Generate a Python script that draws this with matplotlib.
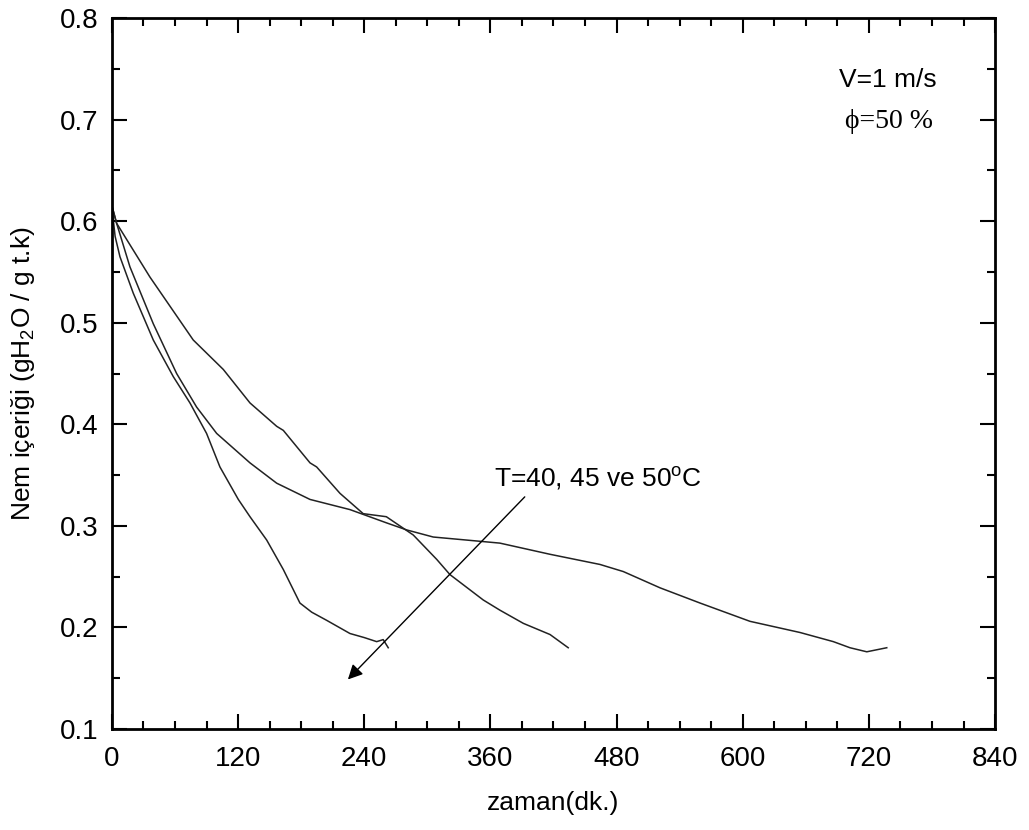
import numpy as np
import matplotlib
matplotlib.use("Agg")
import matplotlib.pyplot as plt
from matplotlib.ticker import MultipleLocator

plt.rcParams['font.family'] = ['Liberation Sans', 'DejaVu Sans']
plt.rcParams['mathtext.fontset'] = 'custom'
plt.rcParams['mathtext.rm'] = 'Liberation Sans'

# T = 50 C (fastest drying)
t50 = [0, 1.3, 3, 7.6, 20.3, 39.3, 58.3, 74.2, 90, 102.7, 120.2, 131.3, 147.2, 163,
       178.8, 190, 204.2, 226.4, 240, 251.8, 258, 262.8]
m50 = [0.615, 0.601, 0.585, 0.565, 0.529, 0.483, 0.447, 0.421, 0.391, 0.358, 0.326, 0.309,
       0.286, 0.257, 0.224, 0.215, 0.207, 0.194, 0.190, 0.186, 0.188, 0.180]

# T = 45 C
t45 = [0, 4.4, 36.1, 77.3, 105.9, 131.3, 156.7, 163, 188.4, 194.7, 216.9, 239, 261,
       286.6, 308.9, 321.5, 353.2, 369, 391.3, 416.7, 434]
m45 = [0.615, 0.598, 0.545, 0.483, 0.454, 0.421, 0.398, 0.394, 0.362, 0.358, 0.332, 0.312,
       0.309, 0.291, 0.267, 0.252, 0.227, 0.217, 0.204, 0.193, 0.180]

# T = 40 C (slowest)
t40 = [0, 4.4, 17.1, 39.3, 61.5, 80.5, 99.6, 131.3, 156.7, 188.4, 226.4, 261, 280.3,
       305.6, 337.4, 369, 416.7, 464.2, 486.4, 521.3, 559.4, 606.9, 654.5, 686.2, 702,
       718, 737]
m40 = [0.615, 0.598, 0.555, 0.499, 0.450, 0.417, 0.391, 0.362, 0.342, 0.326, 0.316, 0.303,
       0.296, 0.289, 0.286, 0.283, 0.272, 0.262, 0.255, 0.239, 0.224, 0.206, 0.195, 0.186,
       0.180, 0.176, 0.180]

fig = plt.figure(figsize=(10.29, 8.30), dpi=100)
ax = fig.add_axes([0.1088, 0.1217, 0.967 - 0.1088, 0.9783 - 0.1217])

for t, m in [(t50, m50), (t45, m45), (t40, m40)]:
    ax.plot(t, m, color='#222222', linewidth=1.1)

ax.set_xlim(0, 840)
ax.set_ylim(0.1, 0.8)
ax.xaxis.set_major_locator(MultipleLocator(120))
ax.xaxis.set_minor_locator(MultipleLocator(30))
ax.yaxis.set_major_locator(MultipleLocator(0.1))
ax.yaxis.set_minor_locator(MultipleLocator(0.05))
ax.tick_params(which='both', direction='in', top=True, right=True, width=1.5, labelsize=20)
ax.tick_params(which='major', length=11)
ax.tick_params(which='minor', length=6)
ax.tick_params(axis='x', which='major', pad=12)
ax.tick_params(axis='y', which='major', pad=10)
for s in ax.spines.values():
    s.set_linewidth(2)

ax.set_xlabel('zaman(dk.)', fontsize=19, labelpad=14)
ax.set_ylabel('Nem içeriği (gH$_2$O / g t.k)', fontsize=19, labelpad=16)

# annotation arrow and labels
ax.annotate('', xy=(222.6, 0.1468), xytext=(394.5, 0.3305),
            arrowprops=dict(arrowstyle='-|>', color='black', lw=1.0, mutation_scale=22))
ax.text(363, 0.347, 'T=40, 45 ve 50$^{\\rm o}$C', fontsize=19, va='center', ha='left')
ax.text(692, 0.739, 'V=1 m/s', fontsize=19, va='center', ha='left')
ax.text(697, 0.698, 'ϕ=50 %', fontsize=20, va='center', ha='left',
        family=['Liberation Serif', 'DejaVu Serif'])

fig.savefig('out.png', dpi=100)
